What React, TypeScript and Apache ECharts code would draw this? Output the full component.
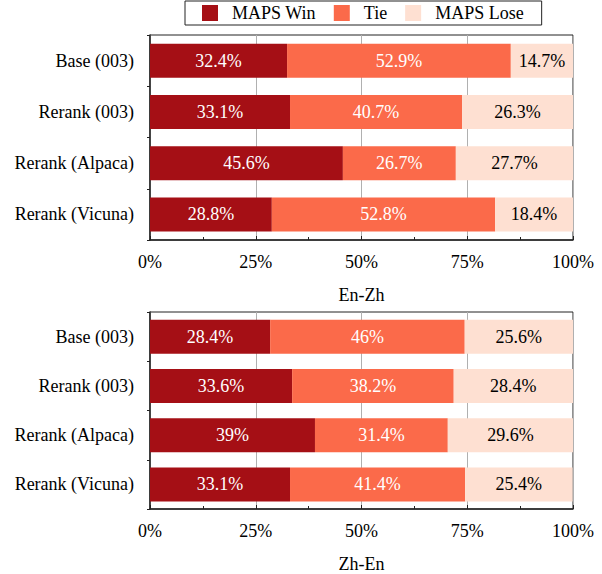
import React, { useEffect, useRef } from "react";
import * as echarts from "echarts";

const categories = ["Base (003)", "Rerank (003)", "Rerank (Alpaca)", "Rerank (Vicuna)"];
const seriesNames = ["MAPS Win", "Tie", "MAPS Lose"];
const enZhWin = [32.4, 33.1, 45.6, 28.8];
const enZhTie = [52.9, 40.7, 26.7, 52.8];
const enZhLose = [14.7, 26.3, 27.7, 18.4];
const zhEnWin = [28.4, 33.6, 39, 33.1];
const zhEnTie = [46, 38.2, 31.4, 41.4];
const zhEnLose = [25.6, 28.4, 29.6, 25.4];
const panelTitles = ["En-Zh", "Zh-En"];
const colors = ["#a50f15", "#fb6a4a", "#fee0d2"];
const labelColors = ["#ffffff", "#ffffff", "#000000"];

const FONT = "Liberation Serif";

export default function App() {
  const ref = useRef<HTMLDivElement>(null);
  useEffect(() => {
    if (!ref.current) return;
    const chart = echarts.init(ref.current, undefined, { renderer: "svg" });
    const grids = [
      { left: 150, width: 423, top: 35, height: 205 },
      { left: 150, width: 423, top: 312, height: 204 },
    ].map((g) => ({ ...g, show: true, borderColor: "#222", borderWidth: 1, backgroundColor: "transparent" }));

    const xAxes = [0, 1].map((i) => ({
      type: "value",
      gridIndex: i,
      min: 0,
      max: 100,
      interval: 25,
      name: panelTitles[i],
      nameLocation: "middle",
      nameGap: 46,
      nameTextStyle: { fontFamily: FONT, fontSize: 18, color: "#000" },
      axisLine: { show: true, lineStyle: { color: "#222", width: 1.5 } },
      axisTick: { show: true, inside: true, length: 4, lineStyle: { color: "#222" } },
      minorTick: { show: true, splitNumber: 2, length: 3, lineStyle: { color: "#222" } },
      axisLabel: {
        formatter: (v: number) => v + "%",
        fontFamily: FONT,
        fontSize: 18,
        color: "#000",
        margin: 13,
      },
      splitLine: { show: true, lineStyle: { color: "#b0b0b0", width: 1 } },
    }));

    const yAxes = [0, 1].map((i) => ({
      type: "category",
      gridIndex: i,
      data: categories,
      inverse: true,
      axisLine: { show: true, lineStyle: { color: "#222", width: 1.5 } },
      axisTick: { show: true, inside: false, length: 3, lineStyle: { color: "#222" } },
      axisLabel: { fontFamily: FONT, fontSize: 18, color: "#000", margin: 16 },
      splitLine: { show: false },
    }));

    const panels = [
      [enZhWin, enZhTie, enZhLose],
      [zhEnWin, zhEnTie, zhEnLose],
    ];
    const series: any[] = [];
    panels.forEach((p, pi) => {
      p.forEach((vals, si) => {
        series.push({
          type: "bar",
          name: seriesNames[si],
          xAxisIndex: pi,
          yAxisIndex: pi,
          stack: "s" + pi,
          data: vals,
          barWidth: 34,
          itemStyle: { color: colors[si] },
          label: {
            show: true,
            position: "inside",
            formatter: (d: any) => d.value + "%",
            fontFamily: FONT,
            fontSize: 18,
            color: labelColors[si],
          },
        });
      });
    });

    chart.setOption({
      animation: false,
      backgroundColor: "#fff",
      legend: {
        data: seriesNames,
        left: 185,
        top: 1,
        orient: "horizontal",
        itemWidth: 16,
        itemHeight: 16,
        itemGap: 18,
        padding: [3, 18, 3, 17],
        borderColor: "#222",
        borderWidth: 1,
        borderRadius: 0,
        icon: "rect",
        textStyle: { fontFamily: FONT, fontSize: 18, color: "#000", padding: [0, 0, 0, 9] },
      },
      grid: grids,
      xAxis: xAxes,
      yAxis: yAxes,
      series,
    });
    return () => chart.dispose();
  }, []);
  return (
    <div
      ref={ref}
      style={{ width: 602, height: 574, position: "fixed", left: 0, top: 0 }}
    />
  );
}
